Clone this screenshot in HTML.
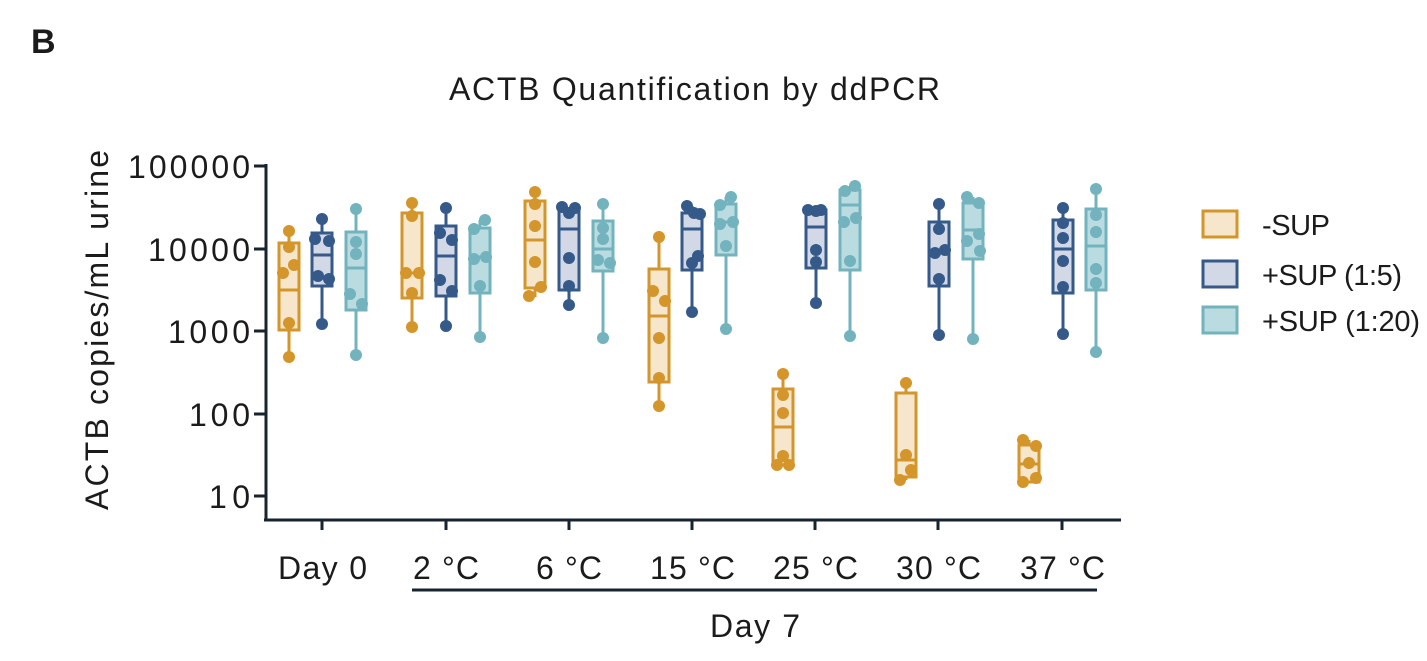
<!DOCTYPE html>
<html><head><meta charset="utf-8"><style>
body{margin:0;background:#fff}
svg text{font-family:"Liberation Sans",sans-serif;fill:#1b1b1b}
</style></head><body>
<svg width="1427" height="656" viewBox="0 0 1427 656" xmlns="http://www.w3.org/2000/svg">
<text x="31" y="53" font-size="34" font-weight="bold">B</text>
<text x="449" y="100" font-size="32" textLength="491" lengthAdjust="spacing">ACTB Quantification by ddPCR</text>
<text transform="translate(108,510) rotate(-90)" font-size="32" textLength="360" lengthAdjust="spacing">ACTB copies/mL urine</text>
<g font-size="32">
<text x="128" y="178" textLength="122" lengthAdjust="spacing">100000</text>
<text x="148" y="261" textLength="102" lengthAdjust="spacing">10000</text>
<text x="168" y="343" textLength="82" lengthAdjust="spacing">1000</text>
<text x="189" y="426" textLength="61" lengthAdjust="spacing">100</text>
<text x="209" y="508" textLength="41" lengthAdjust="spacing">10</text>
</g>
<g stroke="#17232e" stroke-width="3">
<line x1="266" y1="164" x2="266" y2="521"/><line x1="264" y1="520" x2="1121" y2="520"/>
<line x1="254" y1="166" x2="266" y2="166"/><line x1="254" y1="249" x2="266" y2="249"/><line x1="254" y1="331" x2="266" y2="331"/><line x1="254" y1="414" x2="266" y2="414"/><line x1="254" y1="496" x2="266" y2="496"/>
<line x1="322" y1="520" x2="322" y2="530"/><line x1="446" y1="520" x2="446" y2="530"/><line x1="569" y1="520" x2="569" y2="530"/><line x1="692" y1="520" x2="692" y2="530"/><line x1="815" y1="520" x2="815" y2="530"/><line x1="938" y1="520" x2="938" y2="530"/><line x1="1062" y1="520" x2="1062" y2="530"/>
<line x1="412" y1="590" x2="1097" y2="590"/>
</g>
<g font-size="32">
<text x="278" y="579" textLength="89" lengthAdjust="spacing">Day 0</text>
<text x="413" y="579" textLength="66" lengthAdjust="spacing">2 °C</text>
<text x="536" y="579" textLength="66" lengthAdjust="spacing">6 °C</text>
<text x="650" y="579" textLength="85" lengthAdjust="spacing">15 °C</text>
<text x="773" y="579" textLength="85" lengthAdjust="spacing">25 °C</text>
<text x="896" y="579" textLength="85" lengthAdjust="spacing">30 °C</text>
<text x="1020" y="579" textLength="85" lengthAdjust="spacing">37 °C</text>
<text x="710" y="637" textLength="90" lengthAdjust="spacing">Day 7</text>
</g>
<g id="boxes"></g>
<g font-size="29">
<rect x="1203" y="211" width="34" height="26" fill="#F5E6CC" stroke="#D4952A" stroke-width="3"/><text x="1262" y="235" textLength="68" lengthAdjust="spacing">-SUP</text>
<rect x="1203" y="261" width="34" height="26" fill="#D2D8E6" stroke="#355A8A" stroke-width="3"/><text x="1262" y="285" textLength="140" lengthAdjust="spacing">+SUP (1:5)</text>
<rect x="1203" y="307" width="34" height="26" fill="#BADCE1" stroke="#72B3BE" stroke-width="3"/><text x="1262" y="331" textLength="158" lengthAdjust="spacing">+SUP (1:20)</text>
</g>
</svg>
<script>
var C={o:["#D4952A","#F5E6CC"],n:["#355A8A","#D2D8E6"],t:["#72B3BE","#BADCE1"]};
var D=[
["o",289,231,243,290,330,357,[[289,231],[289,247],[294,265],[283,273],[289,323],[289,357]]],
["n",322,219,233,255,286,324,[[322,219],[315,239],[329,241],[318,276],[329,279],[322,324]]],
["t",356,209,232,268,310,355,[[356,209],[356,242],[356,254],[350,294],[362,304],[356,355]]],
["o",412,203,213,273,298,327,[[412,203],[412,216],[406,273],[419,273],[412,293],[412,327]]],
["n",446,208,226,256,296,326,[[446,208],[440,233],[452,240],[440,280],[452,291],[446,326]]],
["t",480,220,228,257,293,337,[[485,220],[474,229],[474,259],[486,257],[480,286],[480,337]]],
["o",535,192,201,240,288,297,[[535,192],[535,204],[535,226],[535,262],[541,287],[529,296]]],
["n",569,208,210,229,290,305,[[562,207],[575,208],[569,213],[569,258],[569,286],[569,305]]],
["t",603,204,221,249,271,338,[[603,204],[603,228],[603,239],[598,260],[610,263],[603,338]]],
["o",659,237,269,316,382,406,[[659,237],[653,291],[665,301],[659,338],[659,378],[659,406]]],
["n",692,206,213,229,270,312,[[687,206],[694,213],[700,214],[698,256],[692,263],[692,312]]],
["t",726,197,204,222,255,329,[[731,197],[720,205],[720,224],[733,222],[726,246],[726,329]]],
["o",783,374,389,427,465,465,[[783,374],[783,395],[783,413],[783,456],[777,465],[789,465]]],
["n",816,210,210,227,268,303,[[808,210],[821,210],[816,211],[816,250],[816,262],[816,303]]],
["t",850,186,190,205,270,336,[[855,186],[845,191],[844,222],[856,218],[850,261],[850,336]]],
["o",906,383,393,460,477,480,[[906,383],[906,455],[911,470],[900,480]]],
["n",939,204,222,253,286,335,[[939,204],[939,229],[935,253],[945,250],[939,279],[939,335]]],
["t",973,197,203,230,259,339,[[967,197],[979,203],[979,234],[967,241],[980,251],[973,339]]],
["o",1029,440,445,464,482,482,[[1023,440],[1036,446],[1029,463],[1023,482],[1036,478]]],
["n",1063,208,220,249,293,334,[[1063,208],[1063,223],[1063,238],[1063,261],[1063,287],[1063,334]]],
["t",1096,189,209,246,290,352,[[1096,189],[1096,215],[1096,232],[1096,269],[1096,283],[1096,352]]]];
var s="";
D.forEach(function(d){var c=C[d[0]],x=d[1];
s+='<line x1="'+x+'" x2="'+x+'" y1="'+d[2]+'" y2="'+d[6]+'" stroke="'+c[0]+'" stroke-width="3"/>';
s+='<rect x="'+(x-10)+'" y="'+d[3]+'" width="20" height="'+(d[5]-d[3])+'" fill="'+c[1]+'" stroke="'+c[0]+'" stroke-width="3"/>';
s+='<line x1="'+(x-10)+'" x2="'+(x+10)+'" y1="'+d[4]+'" y2="'+d[4]+'" stroke="'+c[0]+'" stroke-width="3"/>';
d[7].forEach(function(p){s+='<circle cx="'+p[0]+'" cy="'+p[1]+'" r="6" fill="'+c[0]+'"/>';});
});
document.getElementById("boxes").innerHTML=s;
</script>
</body></html>
